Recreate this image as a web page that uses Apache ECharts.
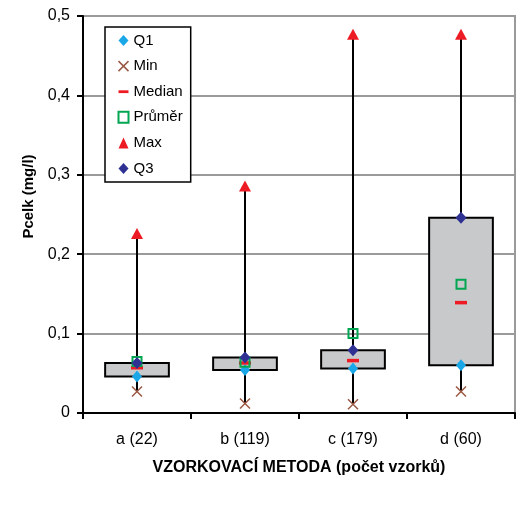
<!DOCTYPE html>
<html>
<head>
<meta charset="utf-8">
<script src="https://cdn.jsdelivr.net/npm/echarts@6/dist/echarts.min.js"></script>
<style>html,body{margin:0;padding:0;background:#fff;}#c{width:521px;height:508px;}</style>
</head>
<body>
<div id="c"></div>
<script>
var categories = ['a (22)', 'b (119)', 'c (179)', 'd (60)'];
var q1Values = [0.046, 0.054, 0.056, 0.060];
var minValues = [0.027, 0.012, 0.011, 0.027];
var medianValues = [0.057, 0.063, 0.066, 0.139];
var meanValues = [0.065, 0.064, 0.100, 0.162];
var maxValues = [0.226, 0.286, 0.477, 0.477];
var q3Values = [0.063, 0.070, 0.079, 0.246];
var yTicks = [0, 0.1, 0.2, 0.3, 0.4, 0.5];

var FONT = '"Liberation Sans", Arial, sans-serif';
var chart = echarts.init(document.getElementById('c'), null, {renderer: 'canvas'});

var boxData = categories.map(function (c, i) {
  return [i, minValues[i], q1Values[i], q3Values[i], maxValues[i]];
});

var crossPath = 'path://M0,0 L10,10 M10,0 L0,10';
var dashPath = 'path://M0,0 M0,3.6 L10,3.6 L10,6.4 L0,6.4 Z M10,10';

var option = {
  animation: false,
  backgroundColor: '#ffffff',
  grid: {
    left: 83, right: 6, top: 16, bottom: 95,
    show: true, borderColor: '#9a9a9a', borderWidth: 2, backgroundColor: 'transparent'
  },
  legend: {
    orient: 'vertical',
    left: 105, top: 27,
    padding: [6, 8, 6, 11],
    itemGap: 10.6,
    itemWidth: 10, itemHeight: 11,
    borderColor: '#000', borderWidth: 1.5,
    backgroundColor: '#fff',
    textStyle: {fontFamily: FONT, fontSize: 15, lineHeight: 15, color: '#000'},
    itemStyle: {borderWidth: 0},
    data: [
      {name: 'Q1', icon: 'diamond', itemStyle: {color: '#1aa7e8'}},
      {name: 'Min', icon: crossPath, itemStyle: {color: 'none', borderColor: '#9b5a45', borderWidth: 1.5}},
      {name: 'Median', icon: dashPath, itemStyle: {color: '#ed1c24'}},
      {name: 'Průměr', icon: 'rect', itemStyle: {color: '#fff', borderColor: '#00a651', borderWidth: 2}},
      {name: 'Max', icon: 'triangle', itemStyle: {color: '#ed1c24'}},
      {name: 'Q3', icon: 'diamond', itemStyle: {color: '#2e3192'}}
    ]
  },
  xAxis: {
    type: 'category',
    data: categories,
    boundaryGap: true,
    name: 'VZORKOVACÍ METODA (počet vzorků)',
    nameLocation: 'middle',
    nameGap: 47,
    nameTextStyle: {fontFamily: FONT, fontSize: 16, fontWeight: 'bold', color: '#000'},
    axisLine: {lineStyle: {color: '#000', width: 2}},
    axisTick: {show: true, length: 6, lineStyle: {color: '#000', width: 2}},
    axisLabel: {fontFamily: FONT, fontSize: 16, color: '#000', margin: 19},
    splitLine: {show: false}
  },
  yAxis: {
    type: 'value',
    min: 0, max: 0.5, interval: 0.1,
    name: 'Pcelk (mg/l)',
    nameLocation: 'middle',
    nameGap: 47,
    nameTextStyle: {fontFamily: FONT, fontSize: 15, fontWeight: 'bold', color: '#000', padding: [0, 0, 0, 36]},
    axisLine: {show: true, lineStyle: {color: '#000', width: 2}},
    axisTick: {show: true, length: 6, lineStyle: {color: '#000', width: 2}},
    axisLabel: {
      fontFamily: FONT, fontSize: 16, color: '#000', margin: 13,
      formatter: function (v) {
        var t = yTicks.find(function (k) { return Math.abs(k - v) < 1e-9; });
        if (t === undefined) return '';
        return t === 0 ? '0' : t.toFixed(1).replace('.', ',');
      }
    },
    splitLine: {show: true, lineStyle: {color: '#9a9a9a', width: 2}}
  },
  series: [
    {
      type: 'custom',
      name: 'box',
      data: boxData,
      z: 2,
      renderItem: function (params, api) {
        var x = api.value(0);
        var pMin = api.coord([x, api.value(1)]);
        var pQ1 = api.coord([x, api.value(2)]);
        var pQ3 = api.coord([x, api.value(3)]);
        var pMax = api.coord([x, api.value(4)]);
        var w = api.size([1, 0])[0] * 0.59;
        return {
          type: 'group',
          children: [
            {type: 'line', shape: {x1: pMin[0], y1: pMin[1], x2: pMax[0], y2: pMax[1]},
             style: {stroke: '#000', lineWidth: 2}},
            {type: 'rect', shape: {x: pQ3[0] - w / 2, y: pQ3[1], width: w, height: pQ1[1] - pQ3[1]},
             style: {fill: '#c8c9cb', stroke: '#000', lineWidth: 2}}
          ]
        };
      }
    },
    {name: 'Q1', type: 'scatter', z: 3, data: q1Values, symbol: 'diamond', symbolSize: [10, 12],
     itemStyle: {color: '#1aa7e8', opacity: 1}},
    {name: 'Min', type: 'scatter', z: 3, data: minValues, symbol: crossPath, symbolSize: 10,
     itemStyle: {color: 'none', borderColor: '#9b5a45', borderWidth: 1.5, opacity: 1}},
    {name: 'Median', type: 'scatter', z: 3, data: medianValues, symbol: 'rect', symbolSize: [12, 3.5],
     itemStyle: {color: '#ed1c24', opacity: 1}},
    {name: 'Průměr', type: 'scatter', z: 3, data: meanValues, symbol: 'rect', symbolSize: 9,
     itemStyle: {color: 'none', borderColor: '#00a651', borderWidth: 2, opacity: 1}},
    {name: 'Max', type: 'scatter', z: 3, data: maxValues, symbol: 'triangle', symbolSize: [12, 11],
     itemStyle: {color: '#ed1c24', opacity: 1}},
    {name: 'Q3', type: 'scatter', z: 3, data: q3Values, symbol: 'diamond', symbolSize: [11, 12],
     itemStyle: {color: '#2e3192', opacity: 1}}
  ]
};
chart.setOption(option);
</script>
</body>
</html>
